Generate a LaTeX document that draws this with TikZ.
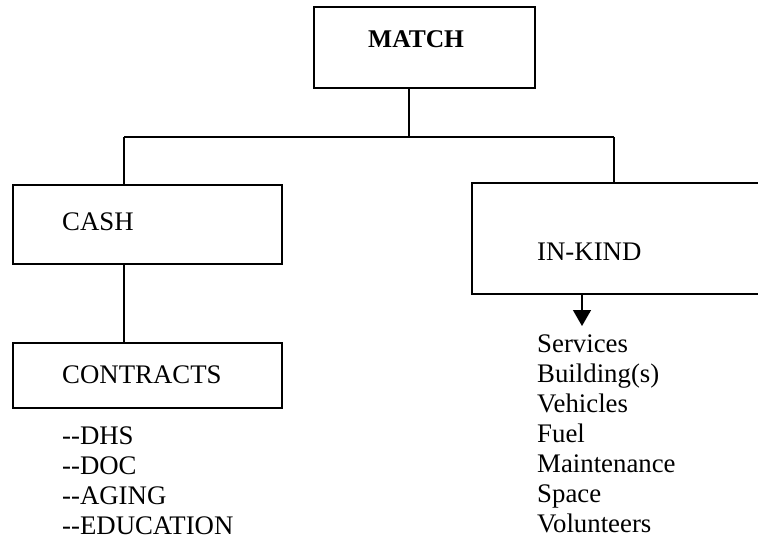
\documentclass[tikz,border=0pt]{standalone}
\usepackage{fontspec}
\setmainfont{Liberation Serif}
\usetikzlibrary{arrows.meta}
\begin{document}
\begin{tikzpicture}[x=1pt,y=-1pt,
  box/.style={draw, line width=1.4pt, rectangle, inner sep=0pt},
  lbl/.style={anchor=base west, inner sep=0pt, font=\fontsize{26.8}{30}\selectfont},
  conn/.style={line width=1.4pt}]
\useasboundingbox (0,0) rectangle (758,542);
% boxes
\node[box, minimum width=221pt, minimum height=81pt] (match) at (424.5,47.5) {};
\node[box, minimum width=269pt, minimum height=79pt] (cash) at (147.5,224.5) {};
\node[box, minimum width=269pt, minimum height=65pt] (contracts) at (147.5,375.5) {};
\node[box, minimum width=298pt, minimum height=111pt] (inkind) at (621,238.5) {};
% box texts
\node[lbl, font=\fontsize{25.5}{30}\selectfont\bfseries] (tmatch) at (368,47) {MATCH};
\node[lbl] (tcash) at (62,230) {CASH};
\node[lbl] (tcontracts) at (62,383) {CONTRACTS};
\node[lbl] (tinkind) at (537,260) {IN-KIND};
% connectors
\coordinate (j) at (409,137);
\coordinate (jl) at (124,137);
\coordinate (jr) at (614,137);
\coordinate (ka) at (582,326);
\draw[conn] (match.south -| j) -- (j);
\draw[conn] (jl) -- (jr);
\draw[conn] (jl) -- (jl |- cash.north);
\draw[conn] (jr) -- (jr |- inkind.north);
\draw[conn] (cash.south -| jl) -- (contracts.north -| jl);
\draw[conn, -{Triangle[width=18pt,length=16pt]}] (inkind.south -| ka) -- (ka);
% lists
\foreach \t [count=\i] in {-{}-DHS,-{}-DOC,-{}-AGING,-{}-EDUCATION}
  \node[lbl] (l\i) at (62,{414+30*\i}) {\t};
\foreach \t [count=\i] in {Services,Building(s),Vehicles,Fuel,Maintenance,Space,Volunteers}
  \node[lbl] (r\i) at (537,{322+30*\i}) {\t};
\end{tikzpicture}
\end{document}
